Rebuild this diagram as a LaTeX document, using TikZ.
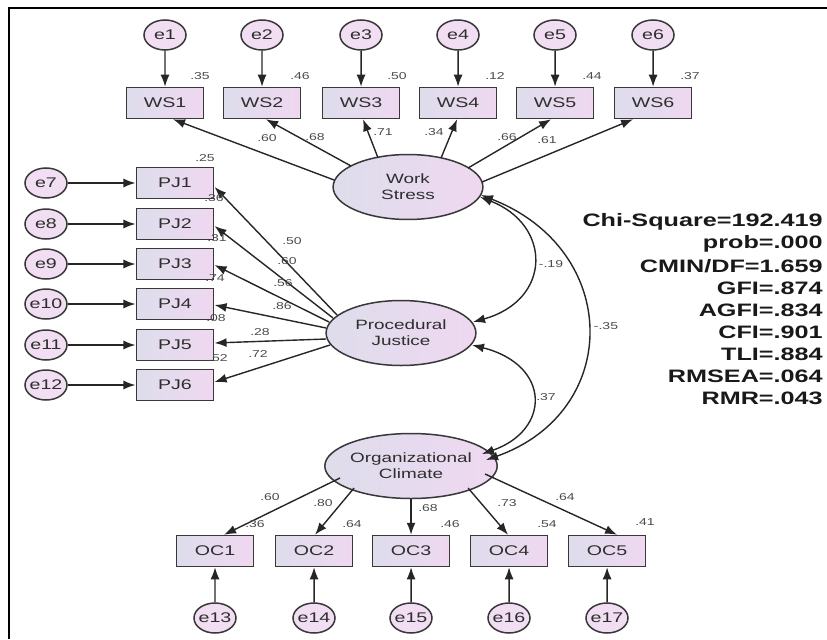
\documentclass[tikz,border=0pt]{standalone}
\usepackage{fontspec}
\setmainfont{Liberation Sans}
\usetikzlibrary{shapes.geometric,arrows.meta,calc}
\definecolor{edge}{HTML}{383838}
\definecolor{fillA}{HTML}{DEDDEC}
\definecolor{fillB}{HTML}{EFD8F0}
\definecolor{numgray}{HTML}{4A4A4A}
\definecolor{txt}{HTML}{2E2E2E}
\begin{document}
\begin{tikzpicture}[x=0.714286pt,y=-1pt,xscale=1.4,
  every node/.append style={transform shape},
  obs/.style={draw=edge,line width=1.5pt,rectangle,left color=fillA,right color=fillB,
    minimum width=55pt,minimum height=31pt,inner sep=0pt,text=txt,
    font=\fontsize{14}{15}\selectfont},
  lat/.style={draw=edge,line width=1.5pt,ellipse,left color=fillA,right color=fillB,
    minimum width=107pt,minimum height=65pt,inner sep=0pt,align=center,text=txt,
    font=\fontsize{13.5}{16}\selectfont},
  err/.style={draw=edge,line width=1.5pt,circle,fill=fillB!85!white,minimum size=30pt,
    inner sep=0pt,text=txt,font=\fontsize{14}{15}\selectfont},
  lbl/.style={text=numgray,inner sep=0pt,font=\fontsize{10}{10}\selectfont},
  fitstat/.style={anchor=east,inner sep=0pt,text=black!90,font=\bfseries\fontsize{18}{18}\selectfont},
  arr/.style={draw=black!85,line width=1.4pt,-{Latex[length=12pt,width=9pt]}},
  cov/.style={draw=black!85,line width=1.4pt,{Latex[length=12pt,width=9pt]}-{Latex[length=12pt,width=9pt]}}
]
\useasboundingbox (0,0) rectangle (827,639);
\draw[line width=2pt] (9,639) -- (9,8) -- (827,8);

% latent variables
\node[lat] (WS) at (408,187) {Work\\Stress};
\node[lat] (PJ) at (401,333) {Procedural\\Justice};
\node[lat] (OC) at (411,466) {Organizational\\Climate};

% work stress indicators
\foreach \i/\x in {1/165,2/262,3/361,4/458,5/555,6/653} {
  \node[obs] (WS\i) at (\x,103) {WS\i};
  \node[err] (e\i) at (\x,35) {e\i};
  \draw[arr] (e\i) -- (WS\i);
}
% procedural justice indicators
\foreach \i/\e/\y in {1/7/183,2/8/224,3/9/264,4/10/304,5/11/345,6/12/385} {
  \node[obs] (PJ\i) at (175,\y) {PJ\i};
  \node[err] (e\e) at (46,\y) {e\e};
  \draw[arr] (e\e) -- (PJ\i);
}
% organizational climate indicators
\foreach \i/\e/\x in {1/13/215,2/14/314,3/15/411,4/16/509,5/17/607} {
  \node[obs] (OC\i) at (\x,551) {OC\i};
  \node[err] (e\e) at (\x,618) {e\e};
  \draw[arr] (e\e) -- (OC\i);
}

% loadings
\foreach \i/\sx/\sy/\ex in {1/-74/-7/8,2/-57/-21/4,3/-30/-29/2,4/33/-29/-1,5/60/-19/-4,6/74/-5/-20}
  \draw[arr] ($(WS.center)+(\sx,\sy)$) -- ($(WS\i.south)+(\ex,0)$);
\foreach \i/\sx/\sy/\ey in {1/-64/-18/4,2/-68/-15/2,3/-72/-11/1,4/-75/-5/1,5/-75/6/-2,6/-71/12/-3}
  \draw[arr] ($(PJ.center)+(\sx,\sy)$) -- ($(PJ\i.east)+(0,\ey)$);
\foreach \i/\sx/\sy/\ex in {1/-71/12/9,2/-57/22/1,3/0/33/0,4/57/22/-1,5/74/8/10}
  \draw[arr] ($(OC.center)+(\sx,\sy)$) -- ($(OC\i.north)+(\ex,0)$);

% covariances
\draw[cov] ($(WS.center)+(72,10)$) .. controls (552,225) and (552,300) .. ($(PJ.center)+(72,-11)$);
\draw[cov] ($(WS.center)+(73,8)$) .. controls (622,250) and (622,412) .. ($(OC.center)+(75,-6)$);
\draw[cov] ($(PJ.center)+(71,12)$) .. controls (551,365) and (551,430) .. ($(OC.center)+(71,-12)$);

% estimates
\foreach \t/\x/\y in {.35/200/76,.46/300/76,.50/397/76,.12/495/76,.44/592/76,.37/690/76,
  .60/267/138,.68/315/137,.71/383/132,.34/434/132,.66/507/137,.61/547/140,
  .25/205/158,.36/214/198,.31/217/238,.74/215/278,.08/216/318,.52/218/358,
  .50/292/241,.60/287/261,.56/283/283,.86/282/306,.28/260/332,.72/258/354,
  .60/270/497,.80/323/503,.68/428/508,.73/507/503,.64/565/497,
  .36/255/524,.64/352/524,.46/450/524,.54/547/524,.41/645/522,
  -.19/551/264,-.35/606/326,.37/546/397}
  \node[lbl] at (\x,\y) {\t};

% fit statistics
\node[fitstat] (f1) at (823,222) {Chi-Square=192.419};
\node[fitstat] (f2) at (823,244) {prob=.000};
\node[fitstat] (f3) at (823,266) {CMIN/DF=1.659};
\node[fitstat] (f4) at (823,288) {GFI=.874};
\node[fitstat] (f5) at (823,310) {AGFI=.834};
\node[fitstat] (f6) at (823,332) {CFI=.901};
\node[fitstat] (f7) at (823,354) {TLI=.884};
\node[fitstat] (f8) at (823,376) {RMSEA=.064};
\node[fitstat] (f9) at (823,398) {RMR=.043};
\end{tikzpicture}
\end{document}
